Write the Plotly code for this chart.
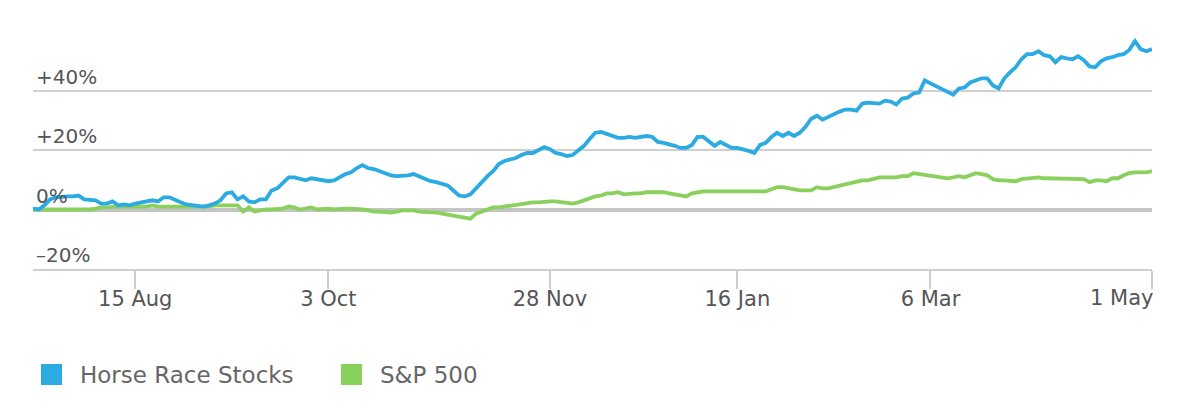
import pandas as pd
import plotly.graph_objects as go

# ---------------- data ----------------
START = "2016-07-20"
END = "2017-05-01"
HOLIDAYS = ["2016-09-05", "2016-11-24", "2016-12-26", "2017-01-02",
            "2017-02-20", "2017-04-14"]
trading_days = pd.bdate_range(START, END, freq="C", holidays=HOLIDAYS)

SERIES_NAMES = ["Horse Race Stocks", "S&P 500"]

horse_race = [
    0.3, 0.0, 1.4, 3.4, 4.1, 4.4, 4.4, 4.4, 4.7, 3.4,
    3.1, 3.1, 2.0, 2.0, 2.7, 1.4, 1.7, 1.4, 2.0, 2.4,
    2.7, 3.1, 2.7, 4.1, 4.1, 3.1, 2.4, 1.7, 1.4, 1.0,
    1.0, 1.4, 2.0, 3.1, 5.4, 5.8, 3.4, 4.4, 2.7, 2.4,
    3.4, 3.4, 6.4, 7.1, 8.8, 10.8, 10.8, 10.2, 9.8, 10.5,
    10.2, 9.8, 9.5, 9.8, 10.8, 11.9, 12.5, 13.9, 14.9, 13.9,
    13.6, 12.9, 12.5, 11.5, 11.2, 11.2, 11.5, 11.9, 11.2, 10.2,
    9.5, 9.2, 8.8, 8.1, 6.4, 4.7, 4.4, 5.1, 7.1, 9.2,
    11.2, 12.9, 15.3, 16.3, 16.9, 17.3, 18.3, 19.0, 19.0, 20.0,
    21.0, 20.3, 19.0, 18.6, 18.0, 18.3, 20.0, 21.4, 23.7, 25.8,
    26.1, 25.4, 24.7, 24.1, 24.1, 24.4, 24.1, 24.4, 24.7, 24.4,
    22.7, 22.4, 22.0, 21.4, 20.7, 20.7, 21.7, 24.4, 24.4, 22.7,
    21.4, 22.7, 21.7, 20.7, 20.7, 20.3, 19.7, 19.0, 21.7, 22.4,
    24.4, 25.8, 24.7, 25.8, 24.7, 25.8, 27.8, 30.5, 31.5, 30.2,
    31.2, 31.9, 32.9, 33.6, 33.6, 33.2, 35.6, 35.9, 35.9, 35.6,
    36.6, 36.3, 35.3, 37.3, 37.6, 39.0, 39.3, 43.4, 42.4, 41.4,
    40.3, 39.3, 38.6, 40.7, 41.0, 42.7, 43.4, 44.1, 44.1, 41.7,
    40.7, 44.1, 46.1, 47.8, 50.5, 52.2, 52.2, 53.2, 51.9, 51.5,
    49.5, 51.2, 50.8, 50.5, 51.5, 50.2, 48.1, 47.8, 49.8, 50.8,
    51.2, 51.9, 52.2, 53.6, 56.6, 53.9, 53.2, 53.9,
]

sp500 = [
    0.0, 0.0, 0.0, 0.0, 0.0, 0.0, 0.0, 0.0, 0.0, -0.3,
    0.0, 0.3, 0.7, 0.7, 1.0, 1.0, 1.0, 1.0, 1.0, 1.0,
    1.0, 1.4, 1.0, 1.0, 1.0, 0.7, 0.7, 0.7, 0.7, 0.7,
    1.0, 1.0, 1.4, 1.4, 1.4, 1.4, 1.4, -0.7, 0.7, -0.7,
    -0.3, 0.0, 0.0, 0.0, 0.3, 1.0, 0.7, 0.0, 0.3, 0.7,
    0.0, 0.3, 0.3, 0.0, 0.3, 0.3, 0.3, 0.3, 0.0, -0.3,
    -0.7, -0.7, -1.0, -1.0, -0.7, -0.3, -0.3, -0.3, -0.7, -0.7,
    -0.7, -1.0, -1.4, -1.7, -2.0, -2.4, -2.7, -3.1, -1.4, -0.7,
    0.3, 0.7, 0.7, 1.0, 1.4, 1.4, 1.7, 2.0, 2.4, 2.4,
    2.7, 2.7, 2.7, 2.4, 2.0, 2.0, 2.4, 3.1, 3.7, 4.4,
    4.7, 5.4, 5.4, 5.8, 5.1, 5.4, 5.4, 5.4, 5.8, 5.8,
    5.8, 5.8, 5.4, 5.1, 4.7, 4.4, 5.4, 5.8, 6.1, 6.1,
    6.1, 6.1, 6.1, 6.1, 5.8, 6.1, 5.8, 6.1, 5.8, 6.1,
    6.8, 7.5, 7.5, 7.1, 6.8, 6.4, 6.4, 6.4, 7.5, 7.1,
    7.1, 7.5, 8.1, 8.5, 8.8, 9.2, 9.8, 9.8, 10.2, 10.8,
    10.8, 10.8, 10.8, 11.2, 11.2, 12.2, 11.9, 11.9, 11.5, 11.2,
    10.8, 10.5, 10.8, 11.2, 10.8, 11.5, 12.2, 11.9, 11.5, 10.2,
    9.8, 9.8, 9.5, 9.5, 10.2, 10.5, 10.8, 10.8, 10.5, 10.5,
    10.5, 10.5, 10.5, 10.5, 10.5, 10.2, 9.2, 9.8, 9.8, 9.5,
    10.5, 10.5, 11.5, 12.2, 12.5, 12.5, 12.5, 12.9,
]

x_tick_dates = ["2016-08-15", "2016-10-03", "2016-11-28",
                "2017-01-16", "2017-03-06", "2017-05-01"]
x_tick_labels = ["15 Aug", "3 Oct", "28 Nov", "16 Jan", "6 Mar", "1 May"]

y_tick_vals = [-20, 0, 20, 40, 60]
y_tick_labels = ["\u201320%", "0%", "+20%", "+40%", ""]

# ---------------- style ----------------
BLUE = "#2babe2"
GREEN = "#8ad05c"
FONT = "DejaVu Sans"
TICK_COLOR = "#555555"
W, H = 1200, 419
L, R, T, B = 33, 48, 31, 150

pw = W - L - R
ph = H - T - B


def px_x(px):
    return (px - L) / pw


def px_y(py):
    return (H - B - py) / ph


# the last tick label is kept inside the plot: drawn right-aligned to its tick
x_text = list(x_tick_labels[:-1]) + [""]

fig = go.Figure()
fig.add_trace(go.Scatter(x=trading_days, y=sp500, name=SERIES_NAMES[1],
                         mode="lines", line=dict(color=GREEN, width=3.8),
                         hoverinfo="x+y"))
fig.add_trace(go.Scatter(x=trading_days, y=horse_race, name=SERIES_NAMES[0],
                         mode="lines", line=dict(color=BLUE, width=3.8),
                         hoverinfo="x+y"))

fig.update_layout(
    width=W, height=H,
    margin=dict(l=L, r=R, t=T, b=B, autoexpand=False),
    paper_bgcolor="white", plot_bgcolor="white",
    showlegend=False,
    font=dict(family=FONT, color=TICK_COLOR, size=21),
    xaxis=dict(
        range=[START, END],
        rangebreaks=[dict(bounds=["sat", "mon"]), dict(values=HOLIDAYS)],
        tickmode="array", tickvals=x_tick_dates, ticktext=x_text,
        ticks="outside", ticklen=18, tickwidth=2, tickcolor="#cccccc",
        ticklabelstandoff=-8, automargin=False,
        showgrid=False, zeroline=False,
        showline=True, linecolor="#d0d0d0", linewidth=2,
        tickfont=dict(size=21, color=TICK_COLOR, family=FONT),
        fixedrange=True,
    ),
    yaxis=dict(
        range=[-20, 60],
        tickmode="array", tickvals=y_tick_vals, ticktext=y_tick_labels,
        ticklabelposition="inside top", automargin=False,
        ticks="", showgrid=True, gridcolor="#d0d0d0", gridwidth=2,
        zeroline=True, zerolinecolor="#c4c4c4", zerolinewidth=4,
        showline=False,
        tickfont=dict(size=20, color=TICK_COLOR, family=FONT),
        fixedrange=True,
    ),
)

fig.add_annotation(xref="x", yref="paper", x=x_tick_dates[-1], y=px_y(298),
                   text=x_tick_labels[-1], showarrow=False,
                   xanchor="right", yanchor="middle", xshift=3,
                   font=dict(family=FONT, size=21, color=TICK_COLOR))

# custom legend with square swatches
legend_items = [(SERIES_NAMES[0], BLUE, 41), (SERIES_NAMES[1], GREEN, 341)]
for name, color, x0 in legend_items:
    fig.add_shape(type="rect", xref="paper", yref="paper",
                  x0=px_x(x0), x1=px_x(x0 + 21), y0=px_y(385), y1=px_y(364),
                  fillcolor=color, line=dict(width=0))
    fig.add_annotation(xref="paper", yref="paper", x=px_x(x0 + 37), y=px_y(374.5),
                       text=name, showarrow=False, xanchor="left", yanchor="middle",
                       font=dict(family=FONT, size=23, color="#666666"))

fig.write_html("out.html")
